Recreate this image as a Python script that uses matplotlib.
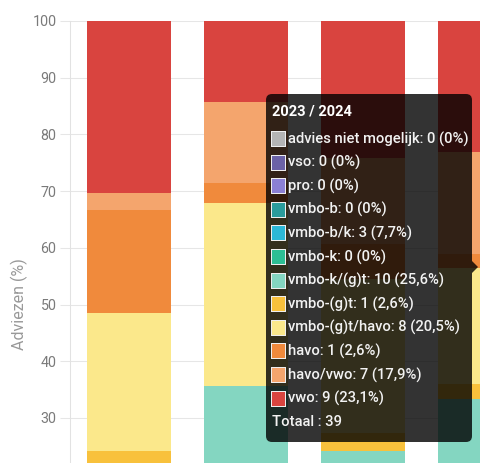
import numpy as np
import matplotlib
matplotlib.use("Agg")
import matplotlib.pyplot as plt
from matplotlib.patches import FancyBboxPatch, Rectangle, Polygon

plt.rcParams['font.family'] = ['Roboto', 'DejaVu Sans']

# ---- data ----
years = ["2020 / 2021", "2021 / 2022", "2022 / 2023", "2023 / 2024"]
categories = ["advies niet mogelijk", "vso", "pro", "vmbo-b", "vmbo-b/k", "vmbo-k",
              "vmbo-k/(g)t", "vmbo-(g)t", "vmbo-(g)t/havo", "havo", "havo/vwo", "vwo"]
colors = ["#b4b4b4", "#6b62a6", "#8b80d4", "#2a9c9c", "#2cb8d6", "#2dbf94",
          "#84d6c1", "#f8c13c", "#fbe88b", "#f08a3c", "#f4a56d", "#d9443f"]
# counts per category (rows) per school year (columns)
adv_niet = [0, 0, 0, 0]
vso      = [0, 0, 0, 0]
pro      = [0, 0, 0, 0]
vmbo_b   = [0, 0, 0, 0]
vmbo_bk  = [2, 2, 2, 3]
vmbo_k   = [0, 0, 0, 0]
vmbo_kgt = [5, 8, 6, 10]
vmbo_gt  = [1, 0, 1, 1]
vmbo_gth = [8, 9, 9, 8]
havo     = [6, 1, 2, 1]
havo_vwo = [1, 4, 5, 7]
vwo      = [10, 4, 8, 9]
counts = np.array([adv_niet, vso, pro, vmbo_b, vmbo_bk, vmbo_k,
                   vmbo_kgt, vmbo_gt, vmbo_gth, havo, havo_vwo, vwo], dtype=float)
y_ticks = [30, 40, 50, 60, 70, 80, 90, 100]
hover_index = 3

totals = counts.sum(axis=0)
pct = counts / totals * 100

W, H = 480, 463
fig = plt.figure(figsize=(W / 100, H / 100), dpi=100)
ax = fig.add_axes([70 / W, 0, 410 / W, (H - 21) / H])

x = np.arange(len(years))
bottom = np.zeros(len(years))
for i, cat in enumerate(categories):
    ax.bar(x, pct[i], 0.717, bottom=bottom, color=colors[i], label=cat, zorder=2)
    bottom += pct[i]

ax.set_xlim(-0.5, 3.0)
ax.set_ylim(100 - (H - 21) / 5.67, 100)
ax.set_yticks(y_ticks)
ax.set_yticklabels([str(t) for t in y_ticks])
ax.set_xticks([])
ax.set_axisbelow(True)
ax.grid(axis='y', color='#e6e6e6', linewidth=0.75, zorder=0)
for s in ['top', 'right', 'bottom']:
    ax.spines[s].set_visible(False)
ax.spines['left'].set_color('#e2e2e2')
ax.spines['left'].set_linewidth(0.75)
ax.tick_params(axis='y', length=7.2, width=0.75, color='#e6e6e6', pad=2.5,
               labelsize=10.3, labelcolor='#7a7a7a')
fig.text(19 / W, 1 - 304 / H, "Adviezen (%)", rotation=90, ha='center', va='center',
         fontsize=11.5, color='#999999')

# ---- tooltip overlay ----
ov = fig.add_axes([0, 0, 1, 1], zorder=10)
ov.set_xlim(0, W)
ov.set_ylim(H, 0)
ov.axis('off')
ov.add_patch(FancyBboxPatch((266, 94), 206, 348,
                            boxstyle="round,pad=0,rounding_size=6",
                            fc=(0, 0, 0, 0.8), ec='none'))
ov.add_patch(Polygon([(472, 261), (478, 267), (472, 273)], closed=True,
                     fc=(0, 0, 0, 0.8), ec='none'))
ov.text(272, 111, years[hover_index], color='white', fontsize=10.5, fontweight='bold',
        ha='left', va='center')


def fmt_pct(p):
    if p == 0:
        return "0%"
    return f"{p:.1f}".replace('.', ',') + "%"


y0, dy = 139, 23.6
for i, cat in enumerate(categories):
    cy = y0 + i * dy
    ov.add_patch(Rectangle((271, cy - 8), 15, 16, fc='#eeeeee', ec='none'))
    ov.add_patch(Rectangle((272, cy - 7), 13, 14, fc=colors[i], ec='none'))
    c = int(counts[i, hover_index])
    ov.text(288, cy, f"{cat}: {c} ({fmt_pct(pct[i, hover_index])})", color='#f2f2f2',
            fontsize=10.6, fontweight='medium', ha='left', va='center')
ov.text(272, y0 + len(categories) * dy, f"Totaal : {int(totals[hover_index])}",
        color='#f2f2f2', fontsize=10.6, fontweight='medium', ha='left', va='center')

fig.savefig("out.png", dpi=100)
